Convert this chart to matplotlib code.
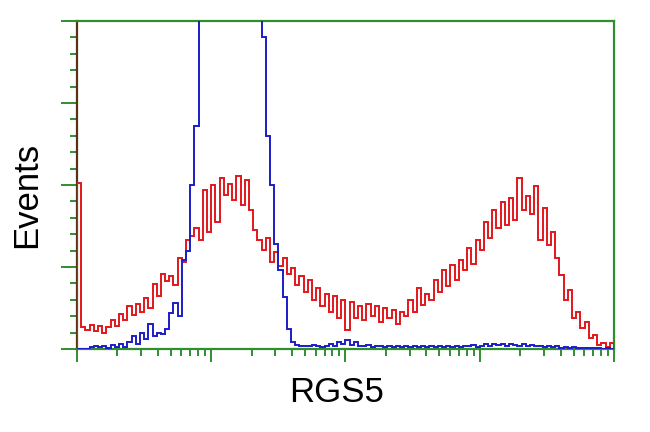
import numpy as np
import matplotlib
matplotlib.use("Agg")
import matplotlib.pyplot as plt

plt.rcParams['font.family'] = ['Liberation Sans', 'DejaVu Sans']

# 4-decade log amplifier, 1024 channels, binned by 8 channels
bin_edges = np.arange(0, 1025, 8)

# Events per bin - stained sample (red)
red_counts = [
    50.6, 6.7, 5.8, 7.3, 5.5, 7.0, 4.9, 6.7, 8.8, 7.0,
    10.7, 8.8, 13.0, 10.4, 13.7, 11.3, 15.5, 12.5, 19.8, 16.2,
    22.9, 20.7, 22.3, 19.5, 27.7, 26.5, 33.2, 34.5, 36.9, 33.2,
    48.5, 35.7, 50.0, 38.7, 52.0, 47.0, 50.3, 45.4, 52.7, 43.9,
    51.5, 42.4, 36.3, 33.2, 30.2, 33.8, 26.5, 29.6, 25.3, 27.7,
    22.9, 24.7, 19.5, 22.3, 17.4, 21.0, 15.0, 18.6, 13.1, 16.8,
    11.3, 16.2, 9.5, 15.0, 5.8, 14.3, 9.5, 13.1, 8.8, 13.7,
    10.0, 13.1, 8.2, 12.5, 9.5, 11.9, 7.6, 11.3, 10.0, 15.0,
    11.3, 18.6, 13.4, 16.8, 15.0, 21.0, 17.4, 24.1, 19.2, 25.6,
    21.0, 27.1, 24.1, 30.8, 25.9, 33.2, 30.2, 38.7, 33.8, 42.4,
    36.9, 44.8, 37.8, 46.0, 39.3, 52.0, 42.4, 46.6, 41.2, 49.7,
    33.2, 43.0, 31.7, 35.7, 27.7, 22.6, 15.0, 18.0, 9.5, 11.3,
    6.4, 8.2, 3.4, 4.3, 1.2, 1.8, 0.6, 1.8,
]

# Events per bin - control (blue), peak runs off scale
blue_counts = [
    0.0, 0.0, 0.0, 0.5, 1.0, 0.5, 1.0, 0.3, 1.2, 0.5,
    1.5, 0.5, 2.0, 4.0, 1.5, 5.0, 3.0, 7.5, 4.0, 5.0,
    4.5, 6.0, 11.0, 14.0, 10.0, 27.0, 30.0, 50.0, 68.0, 110.0,
    135.0, 150.0, 165.0, 175.0, 180.0, 178.0, 170.0, 160.0, 150.0, 140.0,
    130.0, 125.0, 120.0, 102.0, 95.0, 65.0, 50.0, 32.0, 24.0, 16.0,
    6.0, 2.0, 1.2, 1.0, 1.0, 0.8, 1.2, 1.0, 0.6, 1.0,
    1.4, 0.8, 2.2, 1.5, 2.8, 1.2, 2.0, 1.0, 0.8, 1.2,
    0.6, 1.0, 0.8, 0.5, 1.0, 0.6, 0.8, 0.5, 1.0, 0.6,
    0.8, 0.5, 0.8, 0.6, 1.0, 0.5, 0.8, 0.6, 0.8, 0.5,
    0.8, 0.6, 1.0, 0.8, 1.2, 0.6, 1.0, 1.4, 0.8, 1.6,
    1.2, 1.4, 1.0, 1.6, 1.2, 1.0, 1.4, 0.8, 1.2, 1.0,
    0.8, 0.6, 1.0, 0.5, 0.8, 0.4, 0.6, 0.4, 0.5, 0.3,
    0.4, 0.3, 0.2, 0.3, 0.2, 0.1, 0.2, 0.1,
]

green = '#2f8f2f'

fig = plt.figure(figsize=(6.5, 4.32), dpi=100)
ax = fig.add_axes([0.1185, 0.1921, 0.826, 0.7593])

ax.stairs(red_counts, bin_edges, baseline=0, color='#e3161b', lw=1.4, zorder=3)
ax.stairs(blue_counts, bin_edges, baseline=0, color='#1c1cc8', lw=1.4, zorder=4)

ax.set_xlim(0, 1024)
ax.set_ylim(0, 100)

# log-decade ticks on the channel axis
major_x = [256 * d for d in range(5)]
minor_x = [256 * (d + np.log10(k)) for d in range(4) for k in range(2, 10)]
ax.set_xticks(major_x)
ax.set_xticks(minor_x, minor=True)
ax.set_yticks([0, 25, 50, 75, 100])
ax.set_yticks(np.arange(0, 101, 5), minor=True)
ax.set_xticklabels([])
ax.set_yticklabels([])

ax.tick_params(axis='x', which='major', direction='out', length=9.5, width=1.4, color=green)
ax.tick_params(axis='x', which='minor', direction='out', length=5, width=1.4, color=green)
ax.tick_params(axis='y', which='major', direction='out', length=11.5, width=1.4, color=green)
ax.tick_params(axis='y', which='minor', direction='out', length=5, width=1.4, color=green)

for side in ['top', 'right', 'bottom']:
    ax.spines[side].set_color(green)
    ax.spines[side].set_linewidth(1.6)
ax.spines['left'].set_color('#5a3212')
ax.spines['left'].set_linewidth(1.6)

ax.set_xlabel('RGS5', fontsize=25, va='center')
ax.xaxis.set_label_coords(0.484, -0.134)
ax.set_ylabel('Events', fontsize=25, va='center')
ax.yaxis.set_label_coords(-0.093, 0.47)

fig.savefig('out.png', dpi=100)
